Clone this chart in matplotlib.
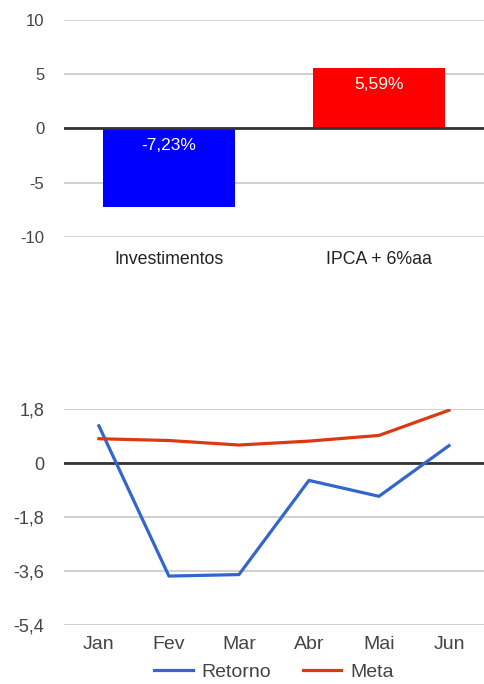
import numpy as np
import matplotlib.pyplot as plt

plt.rcParams['font.family'] = ['Liberation Sans', 'DejaVu Sans']
plt.rcParams['axes.unicode_minus'] = False

# dados do grafico de barras
categorias = ['Investimentos', 'IPCA + 6%aa']
valores = [-7.23, 5.59]
rotulos = ['-7,23%', '5,59%']
cores_barras = ['#0000ff', '#ff0000']

# dados do grafico de linhas
meses = ['Jan', 'Fev', 'Mar', 'Abr', 'Mai', 'Jun']
retorno = [1.24, -3.77, -3.72, -0.58, -1.11, 0.58]
meta = [0.81, 0.75, 0.60, 0.73, 0.92, 1.76]
ticks_linha = [1.8, 0, -1.8, -3.6, -5.4]
ticks_linha_txt = ['1,8', '0', '-1,8', '-3,6', '-5,4']

grade = '#cccccc'
texto = '#444444'

fig = plt.figure(figsize=(4.84, 6.84), dpi=100)

# --- barras ---
ax1 = fig.add_axes([0.132, 0.6535, 0.868, 0.3173])
x = np.arange(len(categorias))
barras = ax1.bar(x, valores, width=0.63, color=cores_barras, zorder=2)
for b, v, r in zip(barras, valores, rotulos):
    topo = v if v > 0 else 0
    ax1.annotate(r, (b.get_x() + b.get_width() / 2, topo), xytext=(0, -12),
                 textcoords='offset points', ha='center', va='center',
                 color='white', fontsize=12.5)
ax1.set_xlim(-0.5, 1.5)
ax1.set_ylim(-10, 10)
ax1.set_yticks([10, 5, 0, -5, -10])
ax1.set_xticks(x)
ax1.set_xticklabels(categorias)
ax1.grid(axis='y', color=grade, linewidth=1.3, zorder=0)
ax1.axhline(0, color='#333333', linewidth=2, zorder=3)
ax1.tick_params(length=0, labelcolor=texto, labelsize=12)
ax1.tick_params(axis='x', pad=10, labelcolor='#222222', labelsize=12.8)
ax1.tick_params(axis='y', pad=14)
for s in ax1.spines.values():
    s.set_visible(False)

# --- linhas ---
ax2 = fig.add_axes([0.132, 0.0863, 0.868, 0.3157])
xm = np.arange(len(meses))
ax2.plot(xm, retorno, color='#3366cc', linewidth=2.3, label='Retorno', zorder=3)
ax2.plot(xm, meta, color='#dc3912', linewidth=2.3, label='Meta', zorder=3)
ax2.set_xlim(-0.5, 5.5)
ax2.set_ylim(-5.4, 1.8)
ax2.set_yticks(ticks_linha)
ax2.set_yticklabels(ticks_linha_txt)
ax2.set_xticks(xm)
ax2.set_xticklabels(meses)
ax2.grid(axis='y', color=grade, linewidth=1.3, zorder=0)
ax2.axhline(0, color='#333333', linewidth=2, zorder=2)
ax2.tick_params(length=0, labelcolor=texto, labelsize=13)
ax2.tick_params(axis='x', pad=8, labelsize=14)
ax2.tick_params(axis='y', pad=14)
for s in ax2.spines.values():
    s.set_visible(False)
leg = ax2.legend(loc='center', bbox_to_anchor=(0.5, -0.22), ncol=2, frameon=False,
                 fontsize=14, handlelength=2.0, columnspacing=1.6, handletextpad=0.45,
                 borderpad=0)
for t in leg.get_texts():
    t.set_color(texto)

fig.savefig('out.png', dpi=100)
